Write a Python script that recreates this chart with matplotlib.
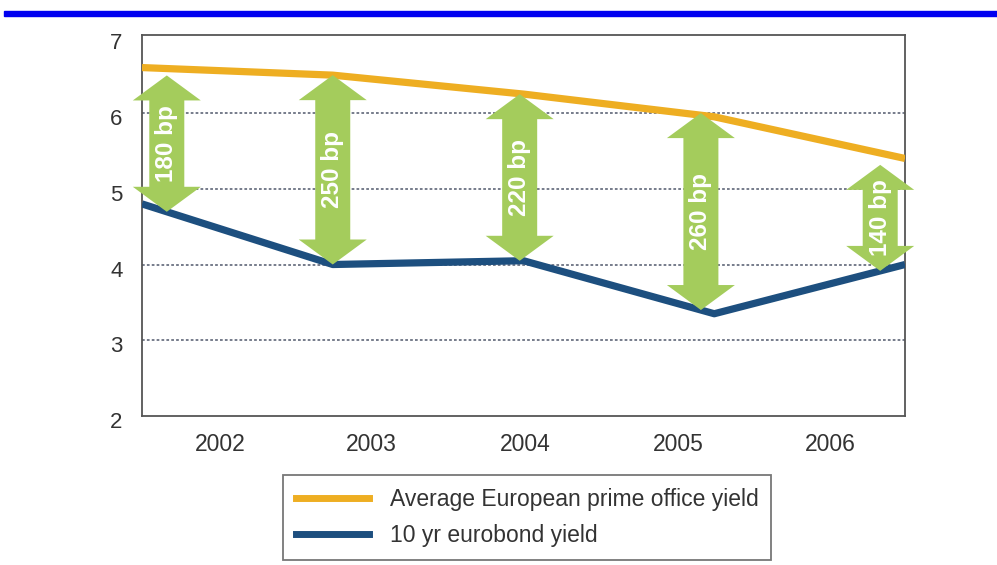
import numpy as np
import matplotlib
matplotlib.use("Agg")
import matplotlib.pyplot as plt
from matplotlib.patches import Polygon, Rectangle
from matplotlib.lines import Line2D
from matplotlib.transforms import ScaledTranslation

plt.rcParams["font.family"] = ["Liberation Sans", "DejaVu Sans"]

# Yield data (percent)
years = ["2002", "2003", "2004", "2005", "2006"]
office_yield = [6.6, 6.5, 6.25, 5.95, 5.4]
bond_yield = [4.8, 4.0, 4.05, 3.35, 4.0]
spread_bp = [180, 250, 220, 260, 140]
spread_labels = ["180 bp", "250 bp", "220 bp", "260 bp", "140 bp"]
y_ticks = [2, 3, 4, 5, 6, 7]
grid_levels = [3, 4, 5, 6]

# Placement of the year labels and the spread arrows along the x axis
year_label_pos = [0.41, 1.20, 2.01, 2.81, 3.61]
arrow_pos = [0.13, 1.0, 1.98, 2.93, 3.87]

ORANGE = "#eeae22"
BLUE = "#1d4f7f"
GREEN = "#a4cc5c"
GRID = "#6b7282"

W, H = 997, 565
fig = plt.figure(figsize=(W / 100, H / 100), dpi=100)
fig.patch.set_facecolor("white")

# blue rule across the top
fig.patches.append(Rectangle((4 / W, 1 - 16 / H), 1 - 4 / W, 5 / H,
                             transform=fig.transFigure, color="#0000f0", zorder=5))

ax_l, ax_r, ax_t, ax_b = 142, 905, 35, 416
ax = fig.add_axes([ax_l / W, 1 - ax_b / H, (ax_r - ax_l) / W, (ax_b - ax_t) / H])

x = np.arange(len(years))
ax.set_xlim(0, len(years) - 1)
ax.set_ylim(2, 7.03)

for g in grid_levels:
    ax.axhline(g, color=GRID, lw=1.3, ls=(0, (1.5, 1.2)), zorder=1)

ax.plot(x, office_yield, color=ORANGE, lw=5.2, solid_capstyle="butt", zorder=3)
ax.plot(x, bond_yield, color=BLUE, lw=5.2, solid_capstyle="butt", zorder=3)

# double-headed spread arrows
px_x = (ax_r - ax_l) / (len(years) - 1)
px_y = (ax_b - ax_t) / 5.03
sw = 17.5 / px_x
hw = 34 / px_x
hl = 25 / px_y
for xa, bp, lab in zip(arrow_pos, spread_bp, spread_labels):
    yb = np.interp(xa, x, bond_yield)
    yt = yb + bp / 100
    verts = [(xa - sw, yb + hl), (xa - hw, yb + hl), (xa, yb), (xa + hw, yb + hl),
             (xa + sw, yb + hl), (xa + sw, yt - hl), (xa + hw, yt - hl), (xa, yt),
             (xa - hw, yt - hl), (xa - sw, yt - hl)]
    ax.add_patch(Polygon(verts, closed=True, facecolor=GREEN, edgecolor="none",
                         zorder=4, clip_on=False))
    ax.text(xa, (yb + yt) / 2, lab, rotation=90, ha="center", va="center",
            color="white", fontsize=17.5, fontweight="bold", zorder=5)

ax.set_yticks(y_ticks)
ax.set_yticklabels([str(t) for t in y_ticks], fontsize=16, color="#333333")
ax.set_xticks(year_label_pos)
ax.set_xticklabels(years, fontsize=16.5, color="#333333")
ax.tick_params(axis="both", length=0)
ax.tick_params(axis="y", pad=14)
ax.tick_params(axis="x", pad=12)
shift = ScaledTranslation(0, -4 / 100, fig.dpi_scale_trans)
for lbl in ax.get_yticklabels():
    lbl.set_transform(lbl.get_transform() + shift)
for s in ax.spines.values():
    s.set_color("#555555")
    s.set_linewidth(1.3)

handles = [Line2D([], [], color=ORANGE, lw=5),
           Line2D([], [], color=BLUE, lw=5)]
leg = fig.legend(handles, ["Average European prime office yield", "10 yr eurobond yield"],
                 loc="upper left", bbox_to_anchor=(283 / W, 1 - 475 / H),
                 fontsize=16.5, frameon=True, fancybox=False, borderaxespad=0,
                 handlelength=3.2, handletextpad=0.9, labelspacing=0.6,
                 borderpad=0.55)
leg.get_frame().set_edgecolor("#555555")
leg.get_frame().set_linewidth(1.3)
for t in leg.get_texts():
    t.set_color("#333333")

fig.savefig("out.png", dpi=100)
